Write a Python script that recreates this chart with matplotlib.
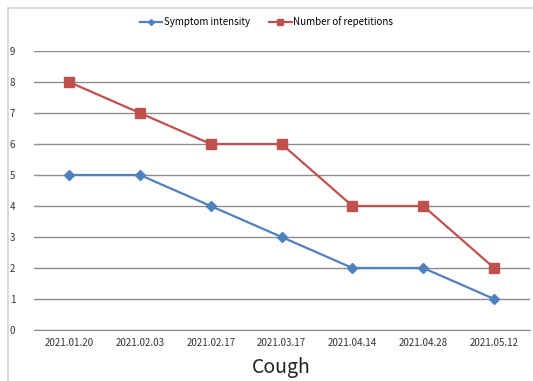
import matplotlib
matplotlib.use("Agg")
import matplotlib.pyplot as plt
from matplotlib.lines import Line2D

dates = ["2021.01.20", "2021.02.03", "2021.02.17", "2021.03.17",
         "2021.04.14", "2021.04.28", "2021.05.12"]
symptom_intensity = [5, 5, 4, 3, 2, 2, 1]
repetitions = [8, 7, 6, 6, 4, 4, 2]
y_ticks = list(range(0, 10))

plt.rcParams['font.family'] = ['Noto Sans CJK KR', 'DejaVu Sans']

W, H = 533, 381
fig = plt.figure(figsize=(W / 100, H / 100), dpi=100)
fig.patch.set_facecolor("white")

# outer chart frame (top and left edges visible)
frame_col = "#d4d4d4"
fig.add_artist(Line2D([8 / W, 1.0], [1 - 8 / H, 1 - 8 / H], transform=fig.transFigure,
                      color=frame_col, lw=1.2))
fig.add_artist(Line2D([8 / W, 8 / W], [0.0, 1 - 8 / H], transform=fig.transFigure,
                      color=frame_col, lw=1.2))

left, right = 33.6 / W, 529.6 / W
bottom, top = 1 - 330 / H, 1 - 51 / H
ax = fig.add_axes([left, bottom, right - left, top - bottom])

x = list(range(len(dates)))
blue = "#4f81bd"
red = "#c0504d"
ax.plot(x, symptom_intensity, color=blue, lw=1.6, marker="D", ms=5,
        label="Symptom intensity", zorder=3)
ax.plot(x, repetitions, color=red, lw=1.6, marker="s", ms=6.5,
        label="Number of repetitions", zorder=3)

ax.set_xlim(-0.5, len(dates) - 0.5)
ax.set_ylim(0, 9)
ax.set_yticks(y_ticks)
ax.set_xticks(x)
ax.set_xticklabels(dates)
ax.grid(axis="y", color="#8c8c8c", lw=1.0)
ax.set_axisbelow(True)
for s in ["top", "right", "left"]:
    ax.spines[s].set_visible(False)
ax.spines["bottom"].set_color("#8c8c8c")
ax.tick_params(axis="both", length=0, labelsize=7, colors="#333333")
ax.tick_params(axis="y", pad=17)
ax.tick_params(axis="x", pad=6)
for lab in ax.get_yticklabels():
    lab.set_horizontalalignment("left")
ax.set_xlabel("Cough", fontsize=14, color="#222222", labelpad=6)

fig.legend(loc="center", bbox_to_anchor=(0.5, 1 - 22 / H), ncol=2, frameon=False,
           fontsize=7, handlelength=2.3, columnspacing=2.0, handletextpad=0.15,
           markerscale=0.6)

fig.savefig("out.png", dpi=100)
